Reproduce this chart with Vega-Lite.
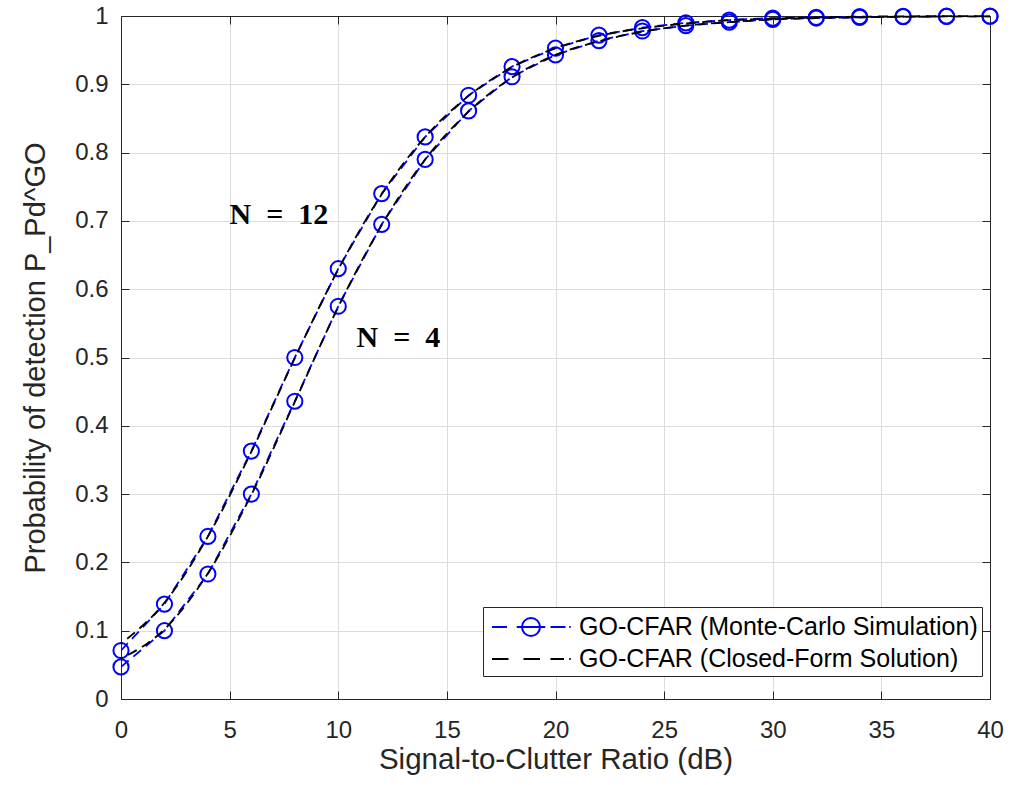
{
  "$schema": "https://vega.github.io/schema/vega-lite/v6.json",
  "width": 869,
  "height": 683,
  "autosize": {"type": "none"},
  "padding": {"left": 121, "top": 16, "right": 20, "bottom": 86},
  "background": "white",
  "config": {
    "view": {"stroke": "#262626", "strokeWidth": 1},
    "font": "Liberation Sans",
    "axis": {
      "domainColor": "#262626",
      "tickColor": "#262626",
      "labelColor": "#262626",
      "titleColor": "#262626",
      "labelFont": "Liberation Sans",
      "titleFont": "Liberation Sans",
      "titleFontWeight": "normal"
    }
  },
  "datasets": {
    "pd": [
      {"snr": 0, "N": 12, "mc": 0.071, "cf": 0.081},
      {"snr": 2, "N": 12, "mc": 0.139, "cf": 0.141},
      {"snr": 4, "N": 12, "mc": 0.238, "cf": 0.238},
      {"snr": 6, "N": 12, "mc": 0.363, "cf": 0.362},
      {"snr": 8, "N": 12, "mc": 0.500, "cf": 0.499},
      {"snr": 10, "N": 12, "mc": 0.630, "cf": 0.629},
      {"snr": 12, "N": 12, "mc": 0.740, "cf": 0.739},
      {"snr": 14, "N": 12, "mc": 0.823, "cf": 0.823},
      {"snr": 16, "N": 12, "mc": 0.884, "cf": 0.883},
      {"snr": 18, "N": 12, "mc": 0.926, "cf": 0.925},
      {"snr": 20, "N": 12, "mc": 0.953, "cf": 0.953},
      {"snr": 22, "N": 12, "mc": 0.972, "cf": 0.971},
      {"snr": 24, "N": 12, "mc": 0.983, "cf": 0.982},
      {"snr": 26, "N": 12, "mc": 0.990, "cf": 0.989},
      {"snr": 28, "N": 12, "mc": 0.994, "cf": 0.994},
      {"snr": 30, "N": 12, "mc": 0.997, "cf": 0.996},
      {"snr": 32, "N": 12, "mc": 0.998, "cf": 0.998},
      {"snr": 34, "N": 12, "mc": 0.999, "cf": 0.999},
      {"snr": 36, "N": 12, "mc": 0.9995, "cf": 0.9995},
      {"snr": 38, "N": 12, "mc": 0.9997, "cf": 0.9997},
      {"snr": 40, "N": 12, "mc": 0.9998, "cf": 0.9998},
      {"snr": 0, "N": 4, "mc": 0.047, "cf": 0.059},
      {"snr": 2, "N": 4, "mc": 0.100, "cf": 0.102},
      {"snr": 4, "N": 4, "mc": 0.183, "cf": 0.184},
      {"snr": 6, "N": 4, "mc": 0.300, "cf": 0.299},
      {"snr": 8, "N": 4, "mc": 0.436, "cf": 0.435},
      {"snr": 10, "N": 4, "mc": 0.575, "cf": 0.574},
      {"snr": 12, "N": 4, "mc": 0.695, "cf": 0.694},
      {"snr": 14, "N": 4, "mc": 0.790, "cf": 0.790},
      {"snr": 16, "N": 4, "mc": 0.861, "cf": 0.860},
      {"snr": 18, "N": 4, "mc": 0.911, "cf": 0.910},
      {"snr": 20, "N": 4, "mc": 0.943, "cf": 0.943},
      {"snr": 22, "N": 4, "mc": 0.964, "cf": 0.963},
      {"snr": 24, "N": 4, "mc": 0.978, "cf": 0.977},
      {"snr": 26, "N": 4, "mc": 0.986, "cf": 0.986},
      {"snr": 28, "N": 4, "mc": 0.991, "cf": 0.991},
      {"snr": 30, "N": 4, "mc": 0.995, "cf": 0.995},
      {"snr": 32, "N": 4, "mc": 0.997, "cf": 0.997},
      {"snr": 34, "N": 4, "mc": 0.998, "cf": 0.998},
      {"snr": 36, "N": 4, "mc": 0.999, "cf": 0.999},
      {"snr": 38, "N": 4, "mc": 0.9994, "cf": 0.9994},
      {"snr": 40, "N": 4, "mc": 0.9996, "cf": 0.9996}
    ],
    "notes": [
      {"snr": 7.27, "pd": 0.708, "label": "N\u2002=\u200212"},
      {"snr": 12.77, "pd": 0.529, "label": "N\u2002=\u20024"}
    ]
  },
  "layer": [
    {
      "data": {"name": "pd"},
      "mark": {"type": "line", "strokeWidth": 1.8, "strokeDash": [10, 6], "clip": true},
      "encoding": {
        "x": {
          "field": "snr", "type": "quantitative",
          "scale": {"domain": [0, 40], "nice": false, "zero": false},
          "axis": {
            "orient": "bottom",
            "values": [0, 5, 10, 15, 20, 25, 30, 35, 40],
            "grid": true, "gridColor": "#dcdcdc", "gridWidth": 1,
            "tickSize": -8, "labelPadding": 27, "labelFontSize": 24, "labelFlush": false,
            "title": "Signal-to-Clutter Ratio (dB)", "titleFontSize": 29.5, "titlePadding": 3
          }
        },
        "y": {
          "field": "mc", "type": "quantitative",
          "scale": {"domain": [0, 1], "nice": false},
          "axis": {
            "orient": "left",
            "values": [0, 0.1, 0.2, 0.3, 0.4, 0.5, 0.6, 0.7, 0.8, 0.9, 1],
            "format": ".1~f",
            "grid": true, "gridColor": "#dcdcdc", "gridWidth": 1,
            "tickSize": -8, "labelPadding": 21, "labelFontSize": 24, "labelFlush": false,
            "title": "Probability of detection P_Pd^GO", "titleFontSize": 29, "titlePadding": 24
          }
        },
        "color": {
          "datum": "GO-CFAR (Monte-Carlo Simulation)",
          "type": "nominal",
          "scale": {
            "domain": ["GO-CFAR (Monte-Carlo Simulation)", "GO-CFAR (Closed-Form Solution)"],
            "range": ["#0000ff", "#000000"]
          },
          "legend": {
            "orient": "none", "legendX": 362, "legendY": 591,
            "title": null, "direction": "vertical",
            "padding": 4, "rowPadding": 3,
            "strokeColor": "#262626", "fillColor": "white",
            "symbolType": "stroke", "symbolSize": 900, "symbolStrokeWidth": 2,
            "symbolOffset": 28, "labelOffset": 32,
            "labelFontSize": 25, "labelColor": "#000000", "labelFont": "Liberation Sans",
            "labelLimit": 0,
            "labelExpr": "datum.label + '\u2002\u2002'",
            "encode": {
              "symbols": {
                "update": {
                  "shape": {"signal": "datum.value === 'GO-CFAR (Monte-Carlo Simulation)' ? 'M-2.6,0H-1.6M-0.95,0H0.95M1.3,0H2.3M2.55,0H2.65M0.6,0A0.6,0.6,0,1,1,-0.6,0A0.6,0.6,0,1,1,0.6,0' : 'M-2.6,0H-1.5M-0.5,0H0.6M1.3,0H2.2M2.55,0H2.65'"},
                  "strokeDash": {"value": []},
                  "fill": {"value": "transparent"}
                }
              }
            }
          }
        },
        "detail": {"field": "N", "type": "nominal"}
      }
    },
    {
      "data": {"name": "pd"},
      "mark": {"type": "point", "shape": "circle", "filled": false, "size": 230, "strokeWidth": 2, "color": "#0000ff", "opacity": 1},
      "encoding": {
        "x": {"field": "snr", "type": "quantitative", "axis": null},
        "y": {"field": "mc", "type": "quantitative", "axis": null}
      }
    },
    {
      "data": {"name": "pd"},
      "mark": {"type": "line", "strokeWidth": 1.8, "strokeDash": [10, 6], "strokeDashOffset": 8, "interpolate": "monotone"},
      "encoding": {
        "x": {"field": "snr", "type": "quantitative", "axis": null},
        "y": {"field": "cf", "type": "quantitative", "axis": null},
        "color": {"datum": "GO-CFAR (Closed-Form Solution)", "type": "nominal"},
        "detail": {"field": "N", "type": "nominal"}
      }
    },
    {
      "data": {"name": "notes"},
      "mark": {"type": "text", "font": "Liberation Serif", "fontWeight": "bold", "fontSize": 30, "color": "#000000", "align": "center", "baseline": "middle"},
      "encoding": {
        "x": {
          "field": "snr", "type": "quantitative",
          "axis": {"orient": "top", "values": [0, 5, 10, 15, 20, 25, 30, 35, 40], "labels": false, "grid": false, "tickSize": -8, "domain": true, "title": null}
        },
        "y": {
          "field": "pd", "type": "quantitative",
          "axis": {"orient": "right", "values": [0, 0.1, 0.2, 0.3, 0.4, 0.5, 0.6, 0.7, 0.8, 0.9, 1], "labels": false, "grid": false, "tickSize": -8, "domain": true, "title": null}
        },
        "text": {"field": "label"}
      }
    }
  ],
  "resolve": {"axis": {"x": "independent", "y": "independent"}}
}
